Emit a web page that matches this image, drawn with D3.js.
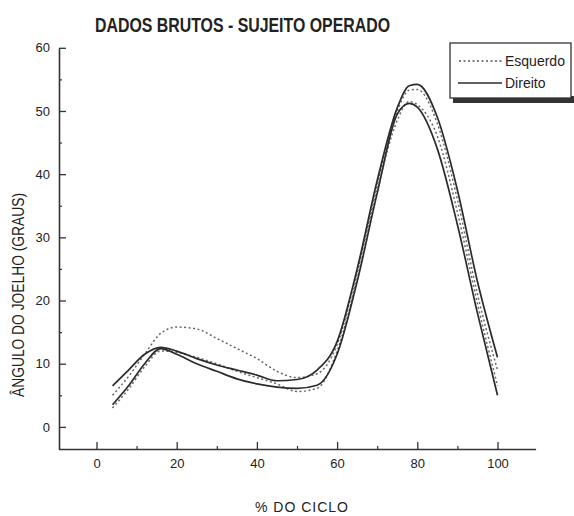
<!DOCTYPE html>
<html>
<head>
<meta charset="utf-8">
<script src="https://cdn.jsdelivr.net/npm/d3@7"></script>
<style>
  body { margin: 0; background: #fff; }
  svg { display: block; }
  text { font-family: "Liberation Sans", Arial, sans-serif; fill: #222; }
</style>
</head>
<body>
<svg id="chart" width="574" height="516"></svg>
<script>
// % do ciclo
var ciclo = [4, 8, 12, 16, 20, 25, 30, 35, 40, 45, 50, 55, 60, 65, 70, 75, 78, 80, 85, 90, 95, 100];

// esquerdo (pontilhado), duas curvas
var esqSup = [5, 8, 11.5, 14.8, 15.8, 15.5, 14, 12.4, 10.8, 8.8, 7.8, 8.4, 13, 24.5, 38.5, 50, 53.3, 53.4, 48, 36, 21, 9];
var esqInf = [3, 6, 9.5, 12, 11.8, 11, 10, 8.8, 7.8, 6.8, 5.6, 6.1, 12, 23.5, 37.5, 48.5, 51.5, 51, 46, 34, 19.5, 6.5];

// direito (continuo), duas curvas
var dirSup = [6.5, 9, 11.5, 12.6, 12, 10.8, 9.8, 9, 8.2, 7.3, 7.5, 9, 13.5, 25, 39, 50.5, 54, 54.2, 49, 37.5, 23, 11];
var dirInf = [3.5, 6.5, 10, 12.4, 11.5, 10, 8.8, 7.6, 6.8, 6.3, 6.1, 6.6, 11.5, 23, 37, 49.5, 51.2, 50.6, 44, 32, 18, 5];

var xTicks = [0, 20, 40, 60, 80, 100];
var yTicks = [0, 10, 20, 30, 40, 50, 60];

var svg = d3.select("#chart");

var xScale = d3.scaleLinear().domain([-9.5, 109.5]).range([58.4, 535.6]);
var yScale = d3.scaleLinear().domain([-3.5, 60]).range([449, 47.8]);

// minor ticks
svg.append("g")
	.attr("transform", "translate(0,449)")
	.call(d3.axisBottom(xScale).tickValues([10, 30, 50, 70, 90]).tickSize(-3).tickFormat(""))
	.call(function(g) { g.select(".domain").remove(); })
	.selectAll("line").attr("stroke", "#333").attr("stroke-width", 1.2);
svg.append("g")
	.attr("transform", "translate(59,0)")
	.call(d3.axisLeft(yScale).tickValues([5, 15, 25, 35, 45, 55]).tickSize(-3).tickFormat(""))
	.call(function(g) { g.select(".domain").remove(); })
	.selectAll("line").attr("stroke", "#333").attr("stroke-width", 1.2);

var xAxis = svg.append("g")
	.attr("transform", "translate(0,449)")
	.call(d3.axisBottom(xScale).tickValues(xTicks).tickSize(-7).tickSizeOuter(0).tickPadding(10));
var yAxis = svg.append("g")
	.attr("transform", "translate(59,0)")
	.call(d3.axisLeft(yScale).tickValues(yTicks).tickSize(-7).tickSizeOuter(0).tickPadding(9));

[xAxis, yAxis].forEach(function(a) {
	a.select(".domain").attr("stroke", "#333").attr("stroke-width", 1.6);
	a.selectAll(".tick line").attr("stroke", "#333").attr("stroke-width", 1.3);
	a.selectAll(".tick text").style("font-size", "13px").attr("fill", "#333");
});

// curves
var line = d3.line()
	.x(function(d, i) { return xScale(ciclo[i]); })
	.y(function(d) { return yScale(d); })
	.curve(d3.curveMonotoneX);

[esqSup, esqInf].forEach(function(s) {
	svg.append("path").attr("d", line(s))
		.attr("fill", "none").attr("stroke", "#666").attr("stroke-width", 1.5)
		.attr("stroke-dasharray", "2,2.5");
});
[dirSup, dirInf].forEach(function(s) {
	svg.append("path").attr("d", line(s))
		.attr("fill", "none").attr("stroke", "#2b2b2b").attr("stroke-width", 1.7);
});

// title
svg.append("text").attr("x", 95).attr("y", 32)
	.attr("textLength", 295).attr("lengthAdjust", "spacingAndGlyphs")
	.style("font-size", "20px").style("font-weight", "bold").attr("fill", "#2a2a2a")
	.text("DADOS BRUTOS - SUJEITO OPERADO");

// axis labels
svg.append("text")
	.attr("transform", "translate(24,295) rotate(-90)")
	.attr("text-anchor", "middle")
	.attr("textLength", 204).attr("lengthAdjust", "spacingAndGlyphs")
	.style("font-size", "16px").attr("fill", "#333")
	.text("ÂNGULO DO JOELHO (GRAUS)");
svg.append("text")
	.attr("x", 302).attr("y", 512)
	.attr("text-anchor", "middle")
	.style("font-size", "14px").style("letter-spacing", "1px").attr("fill", "#555")
	.text("% DO CICLO");

// legend
var leg = svg.append("g");
leg.append("rect").attr("x", 453).attr("y", 96).attr("width", 121).attr("height", 7).attr("fill", "#333");
leg.append("rect").attr("x", 450).attr("y", 43).attr("width", 121).attr("height", 55)
	.attr("fill", "#fff").attr("stroke", "#333").attr("stroke-width", 1.3);
leg.append("line").attr("x1", 459).attr("x2", 502).attr("y1", 61).attr("y2", 61)
	.attr("stroke", "#555").attr("stroke-width", 1.5).attr("stroke-dasharray", "2,2.5");
leg.append("line").attr("x1", 458).attr("x2", 502).attr("y1", 83).attr("y2", 83)
	.attr("stroke", "#2b2b2b").attr("stroke-width", 1.5);
leg.append("text").attr("x", 505).attr("y", 66)
	.style("font-size", "14px").text("Esquerdo");
leg.append("text").attr("x", 505).attr("y", 88)
	.style("font-size", "14px").text("Direito");
</script>
</body>
</html>
